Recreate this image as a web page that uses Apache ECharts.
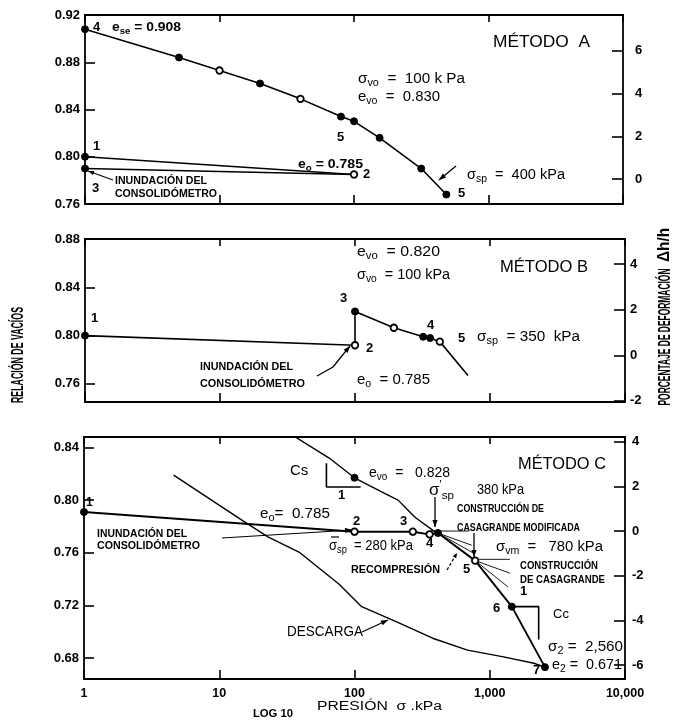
<!DOCTYPE html>
<html><head><meta charset="utf-8">
<script src="https://cdn.jsdelivr.net/npm/echarts@6/dist/echarts.min.js"></script>
<style>html,body{margin:0;padding:0;background:#fff}#c{width:675px;height:722px}</style>
</head><body><div id="c"></div>
<script>
// ---------------- data ----------------
const xTickValues = [1, 10, 100, 1000, 10000];
const leftTicksA = [0.76, 0.80, 0.84, 0.88, 0.92];
const rightTicksA = [0, 2, 4, 6];
const leftTicksB = [0.76, 0.80, 0.84, 0.88];
const rightTicksB = [-2, 0, 2, 4];
const leftTicksC = [0.68, 0.72, 0.76, 0.80, 0.84];
const rightTicksC = [-6, -4, -2, 0, 2, 4];

// Panel A (Método A)   marker kind: 0 none, 1 filled, 2 open
const aCurveP = [1, 5, 10, 20, 40, 80, 100, 155, 316, 486];
const aCurveE = [0.908, 0.884, 0.873, 0.862, 0.849, 0.834, 0.830, 0.816, 0.790, 0.768];
const aCurveMark = [1, 1, 2, 1, 2, 1, 1, 1, 1, 1];
const aLoadP = [1, 100];
const aLoadE = [0.800, 0.785];
const aLoadMark = [1, 2];
const aFloodP = [1, 100];
const aFloodE = [0.790, 0.785];
const aFloodMark = [1, 0];

// Panel B (Método B)
const bLoadP = [1, 100];
const bLoadE = [0.800, 0.792];
const bLoadMark = [1, 0];
const bCurveP = [100, 100, 194, 320, 360, 425, 687];
const bCurveE = [0.792, 0.820, 0.8065, 0.799, 0.798, 0.795, 0.767];
const bCurveMark = [2, 1, 2, 1, 1, 2, 0];

// Panel C (Método C)
const cLoadP = [1, 100, 270, 359, 414, 780, 1456, 2560];
const cLoadE = [0.791, 0.776, 0.776, 0.774, 0.775, 0.754, 0.719, 0.673];
const cLoadMark = [1, 2, 2, 2, 1, 2, 1, 1];
const cFieldP = [34, 65, 100, 160, 210, 280, 380, 414];
const cFieldE = [0.850, 0.832, 0.817, 0.806, 0.800, 0.787, 0.777, 0.775];
const cFieldMark = [0, 0, 1, 0, 0, 0, 0, 0];
const cUnloadP = [4.6, 14.6, 22.9, 39.5, 77, 113, 209, 378, 685, 1236, 2120, 2560];
const cUnloadE = [0.819, 0.785, 0.772, 0.760, 0.736, 0.719, 0.707, 0.695, 0.686, 0.681, 0.676, 0.673];
const cConstructionLines = [
  [[359, 0.7765], [700, 0.7765]],
  [[414, 0.775], [736, 0.7657]],
  [[414, 0.775], [750, 0.760]],
  [[780, 0.755], [1409, 0.755]],
  [[780, 0.754], [1409, 0.7445]],
  [[780, 0.754], [1364, 0.734]]
];
const cCsTriangle = [[62, 0.828], [62, 0.810], [111, 0.810]];
const cCcTriangle = [[1456, 0.719], [2300, 0.719], [2300, 0.694]];

// ---------------- helpers ----------------
const FONT = '"Liberation Sans", Arial, sans-serif';
const mctx = document.createElement('canvas').getContext('2d');
function fstr(size, weight, fam) { return (weight || 'normal') + ' ' + size + 'px ' + (fam || FONT); }
function mw(str, f) { mctx.font = f; return mctx.measureText(str).width; }

// parts: strings (normal) or [text, kind] kind 1 = subscript, 2 = superscript
function label(x, y, parts, o) {
  o = o || {};
  const size = o.size || 13, weight = o.weight || 'bold', fam = o.fam || FONT;
  if (typeof parts === 'string') parts = [parts];
  const children = []; let cx = 0;
  parts.forEach(p => {
    const t = typeof p === 'string' ? p : p[0];
    const kind = typeof p === 'string' ? 0 : p[1];
    const s = kind ? Math.round(size * 0.7) : size;
    const f = fstr(s, weight, fam);
    const dy = kind === 1 ? size * 0.32 : (kind === 2 ? -size * 0.38 : 0);
    children.push({ type: 'text', x: cx, y: dy, silent: true,
      style: { text: t, font: f, fill: '#000', textAlign: 'left', align: 'left',
               textVerticalAlign: 'middle', verticalAlign: 'middle' } });
    cx += mw(t, f);
  });
  const sx = o.w ? o.w / cx : 1;
  if (o.center) children.forEach(c => { c.x -= cx / 2; });
  return { type: 'group', x: x, y: y, scaleX: sx, rotation: o.rot || 0, children: children, silent: true };
}
function arrow(points, o) {
  o = o || {};
  const els = [{ type: 'polyline', silent: true, shape: { points: points },
    style: { stroke: '#000', lineWidth: o.lw || 1.2, fill: 'none', lineDash: o.dash || null } }];
  const n = points.length;
  const x2 = points[n - 1][0], y2 = points[n - 1][1], x1 = points[n - 2][0], y1 = points[n - 2][1];
  const a = Math.atan2(y2 - y1, x2 - x1), L = o.L || 7, W = o.W || 2.6;
  const p1 = [x2 - L * Math.cos(a) + W * Math.sin(a), y2 - L * Math.sin(a) - W * Math.cos(a)];
  const p2 = [x2 - L * Math.cos(a) - W * Math.sin(a), y2 - L * Math.sin(a) + W * Math.cos(a)];
  els.push({ type: 'polygon', silent: true, shape: { points: [[x2, y2], p1, p2] }, style: { fill: '#000' } });
  return els;
}
function markItem(kind) {
  if (kind === 1) return { symbol: 'circle', symbolSize: 7, itemStyle: { color: '#000', borderColor: '#000', borderWidth: 1 } };
  if (kind === 2) return { symbol: 'circle', symbolSize: 6.5, itemStyle: { color: '#fff', borderColor: '#000', borderWidth: 1.8 } };
  return { symbol: 'none' };
}
function lineSeries(gi, xs, ys, marks, o) {
  o = o || {};
  return {
    type: 'line', xAxisIndex: gi, yAxisIndex: gi, animation: false, silent: true,
    z: o.z || 3, clip: true,
    lineStyle: { color: '#000', width: o.width || 1.6 },
    data: xs.map((x, i) => Object.assign({ value: [x, ys[i]] }, markItem(marks ? marks[i] : 0)))
  };
}
function polySeries(gi, pts, width) {
  return {
    type: 'line', xAxisIndex: gi, yAxisIndex: gi, animation: false, silent: true, symbol: 'none',
    lineStyle: { color: '#000', width: width || 1 }, data: pts.map(p => ({ value: p }))
  };
}

// ---------------- axes ----------------
const grids = [
  { left: 85, top: 15, width: 538, height: 189 },
  { left: 85, top: 239, width: 540, height: 163 },
  { left: 84, top: 437, width: 541, height: 242 }
];
const axisLineStyle = { color: '#000', width: 1.8 };
function xAx(gi, pos, showLabel) {
  return {
    type: 'log', logBase: 10, min: 1, max: 10000, gridIndex: gi, position: pos,
    axisLine: { show: true, onZero: false, lineStyle: axisLineStyle },
    axisTick: { show: true, inside: true, length: pos === 'top' ? 7 : 9, lineStyle: { color: '#000', width: 1.6 } },
    minorTick: { show: false }, splitLine: { show: false }, minorSplitLine: { show: false },
    axisLabel: { show: showLabel, margin: 8, color: '#000', fontFamily: FONT, fontWeight: 'bold', fontSize: 12.5,
      formatter: v => { const r = Math.round(v); return r >= 1000 ? r.toLocaleString('en-US') : String(r); } }
  };
}
function yLeft(gi, min, max, ticks) {
  return {
    type: 'value', gridIndex: gi, position: 'left', min: min, max: max,
    axisLine: { show: true, onZero: false, lineStyle: axisLineStyle },
    axisTick: { show: true, inside: true, length: 10, customValues: ticks, lineStyle: { color: '#000', width: 1.6 } },
    splitLine: { show: false },
    axisLabel: { customValues: ticks, margin: 5, color: '#000', fontFamily: FONT, fontWeight: 'bold', fontSize: 13,
      formatter: v => Number(v).toFixed(2) }
  };
}
function yRight(gi, min, max, ticks, margin) {
  return {
    type: 'value', gridIndex: gi, position: 'right', min: min, max: max,
    axisLine: { show: true, onZero: false, lineStyle: axisLineStyle },
    axisTick: { show: true, inside: true, length: 11, customValues: ticks, lineStyle: { color: '#000', width: 1.6 } },
    splitLine: { show: false },
    axisLabel: { customValues: ticks, margin: margin, color: '#000', fontFamily: FONT, fontWeight: 'bold', fontSize: 13,
      formatter: v => String(Math.round(v)) }
  };
}

// ---------------- annotations ----------------
const g = [];
// Panel A
g.push(label(93, 27, '4', { size: 13 }));
g.push(label(112, 27, ['e', ['se', 1], ' = 0.908'], { size: 13, w: 69 }));
g.push(label(93, 146, '1', { size: 13 }));
g.push(label(92, 188, '3', { size: 13 }));
g.push(label(115, 181, 'INUNDACIÓN DEL', { size: 10.5, w: 92 }));
g.push(label(115, 194, 'CONSOLIDÓMETRO', { size: 10.5, w: 102 }));
g.push(...arrow([[113, 180], [88, 171]], { lw: 1.1, L: 6, W: 2.2 }));
g.push(label(298, 164, ['e', ['o', 1], ' = 0.785'], { size: 13, w: 65 }));
g.push(label(337, 137, '5', { size: 13 }));
g.push(label(363, 174, '2', { size: 13 }));
g.push(label(458, 193, '5', { size: 13 }));
g.push(label(493, 43, 'MÉTODO  A', { size: 16, weight: 'normal', w: 97 }));
g.push(label(358, 79, ['σ', ['vo', 1], '  =  100 k Pa'], { size: 14, weight: 'normal', w: 107 }));
g.push(label(358, 97, ['e', ['vo', 1], '  =  0.830'], { size: 14, weight: 'normal', w: 82 }));
g.push(label(467, 175, ['σ', ['sp', 1], '  =  400 kPa'], { size: 14, weight: 'normal', w: 98 }));
g.push(...arrow([[456, 166], [439, 180]], { lw: 1.3 }));
// Panel B
g.push(label(91, 318, '1', { size: 13 }));
g.push(label(200, 367, 'INUNDACIÓN DEL', { size: 10.5, w: 93 }));
g.push(label(200, 384, 'CONSOLIDÓMETRO', { size: 10.5, w: 105 }));
g.push(...arrow([[317, 376], [333, 367], [350, 346]], { lw: 1.3 }));
g.push(label(357, 252, ['e', ['vo', 1], '  = 0.820'], { size: 14, weight: 'normal', w: 83 }));
g.push(label(357, 275, ['σ', ['vo', 1], '  = 100 kPa'], { size: 14, weight: 'normal', w: 93 }));
g.push(label(500, 268, 'MÉTODO B', { size: 16, weight: 'normal', w: 88 }));
g.push(label(340, 298, '3', { size: 13 }));
g.push(label(366, 348, '2', { size: 13 }));
g.push(label(427, 325, '4', { size: 13 }));
g.push(label(458, 338, '5', { size: 13 }));
g.push(label(477, 337, ['σ', ['sp', 1], '  = 350  kPa'], { size: 14, weight: 'normal', w: 103 }));
g.push(label(357, 380, ['e', ['o', 1], '  = 0.785'], { size: 14, weight: 'normal', w: 73 }));
// Panel C
g.push(label(86, 503, '1', { size: 12 }));
g.push(label(97, 534, 'INUNDACIÓN DEL', { size: 10.5, w: 90 }));
g.push(label(97, 546, 'CONSOLIDÓMETRO', { size: 10.5, w: 103 }));
g.push(...arrow([[222, 538], [352, 530]], { lw: 1.2 }));
g.push(label(290, 471, 'Cs', { size: 15, weight: 'normal' }));
g.push(label(338, 495, '1', { size: 13 }));
g.push(label(369, 473, ['e', ['vo', 1], '  =   0.828'], { size: 14, weight: 'normal', w: 81 }));
g.push(label(518, 465, 'MÉTODO C', { size: 16, weight: 'normal', w: 88 }));
g.push(label(260, 514, ['e', ['o', 1], '=  0.785'], { size: 14, weight: 'normal', w: 70 }));
g.push(label(429, 491, ['σ', ["'", 2], ['sp', 1]], { size: 16, weight: 'normal', w: 25 }));
g.push(label(477, 490, '380 kPa', { size: 14, weight: 'normal', w: 47 }));
g.push(label(457, 509, 'CONSTRUCCIÓN DE', { size: 10.5, w: 87 }));
g.push(label(457, 528, 'CASAGRANDE MODIFICADA', { size: 10.5, w: 123 }));
g.push(...arrow([[435, 497], [435, 527]], { lw: 1.3 }));
g.push(label(329, 546, ['σ', ['sp', 1], '  = 280 kPa'], { size: 14, weight: 'normal', w: 84 }));
g.push({ type: 'line', silent: true, shape: { x1: 331, y1: 537, x2: 339, y2: 537 }, style: { stroke: '#000', lineWidth: 1.2 } });
g.push(label(353, 521, '2', { size: 13 }));
g.push(label(400, 521, '3', { size: 13 }));
g.push(label(426, 543, '4', { size: 13 }));
g.push(label(496, 547, ['σ', ['vm', 1], '  =   780 kPa'], { size: 14, weight: 'normal', w: 107 }));
g.push(...arrow([[474, 533], [474, 557]], { lw: 1.3 }));
g.push(label(520, 566, 'CONSTRUCCIÓN', { size: 10.5, w: 78 }));
g.push(label(520, 580, 'DE CASAGRANDE', { size: 10.5, w: 85 }));
g.push(label(351, 570, 'RECOMPRESIÓN', { size: 10.5, w: 89 }));
g.push(...arrow([[447, 570], [457, 553]], { lw: 1.2, dash: [3, 2], L: 5, W: 2 }));
g.push(label(463, 569, '5', { size: 13 }));
g.push(label(493, 608, '6', { size: 13 }));
g.push(label(520, 591, '1', { size: 13 }));
g.push(label(553, 614, 'Cc', { size: 13, weight: 'normal' }));
g.push(label(548, 647, ['σ', ['2', 1], ' =  2,560'], { size: 14, weight: 'normal', w: 75 }));
g.push(label(552, 665, ['e', ['2', 1], ' =  0.671'], { size: 14, weight: 'normal', w: 70 }));
g.push(label(533, 670, '7', { size: 13 }));
g.push(label(287, 632, 'DESCARGA', { size: 15, weight: 'normal', w: 76 }));
g.push(...arrow([[362, 632], [388, 620]], { lw: 1.3 }));
// axis titles
g.push(label(253, 714, 'LOG 10', { size: 11, w: 40 }));
g.push(label(317, 707, ['PRESIÓN  ', 'σ', ' .kPa'], { size: 12, weight: 'normal', w: 125 }));
g.push(label(18, 355, 'RELACIÓN DE VACÍOS', { size: 17, w: 96, center: true, rot: Math.PI / 2 }));
g.push(label(665, 337, 'PORCENTAJE DE DEFORMACIÓN', { size: 17, w: 137, center: true, rot: Math.PI / 2 }));
g.push(label(665, 245, 'Δh/h', { size: 16, w: 34, center: true, rot: Math.PI / 2 }));

// ---------------- series ----------------
const series = [
  lineSeries(0, aCurveP, aCurveE, aCurveMark),
  lineSeries(0, aLoadP, aLoadE, aLoadMark),
  lineSeries(0, aFloodP, aFloodE, aFloodMark),
  lineSeries(1, bLoadP, bLoadE, bLoadMark),
  lineSeries(1, bCurveP, bCurveE, bCurveMark),
  lineSeries(2, cUnloadP, cUnloadE, null, { width: 1.4 }),
  lineSeries(2, cFieldP, cFieldE, cFieldMark, { width: 1.4 }),
  lineSeries(2, cLoadP, cLoadE, cLoadMark, { width: 1.9, z: 4 }),
  polySeries(2, cCsTriangle, 1.6),
  polySeries(2, cCcTriangle, 1.6)
].concat(cConstructionLines.map(l => polySeries(2, l, 0.9)));

const option = {
  backgroundColor: '#fff',
  animation: false,
  grid: grids,
  xAxis: [xAx(0, 'bottom', false), xAx(1, 'bottom', false), xAx(2, 'bottom', true),
          xAx(0, 'top', false), xAx(1, 'top', false), xAx(2, 'top', false)],
  yAxis: [yLeft(0, 0.76, 0.92, leftTicksA), yLeft(1, 0.745, 0.88, leftTicksB), yLeft(2, 0.664, 0.848, leftTicksC),
          yRight(0, -1.16, 7.67, rightTicksA, 12), yRight(1, -2.05, 5.1, rightTicksB, 5), yRight(2, -6.62, 4.22, rightTicksC, 7)],
  series: series,
  graphic: { elements: g }
};
const chart = echarts.init(document.getElementById('c'), null, { renderer: 'canvas' });
chart.setOption(option);
</script></body></html>
